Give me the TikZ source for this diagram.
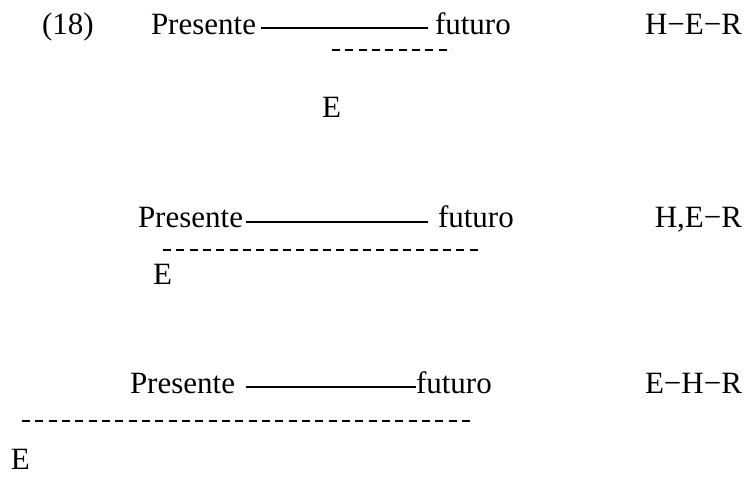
\documentclass[tikz,border=0pt]{standalone}
\usepackage{fontspec}
\setmainfont{Liberation Serif}
\usetikzlibrary{calc}
\begin{document}
\begin{tikzpicture}[x=0.75pt,y=-0.75pt,
  lbl/.style={inner sep=0pt,outer sep=0pt,font=\fontsize{23.25}{28}\selectfont},
  solidrule/.style={line width=1.5pt},
  dashrule/.style={line width=1.1pt,dash pattern=on 6pt off 4pt}]
\useasboundingbox (0,0) rectangle (751,477);

% first line: (18)
\node[lbl,anchor=base west] (n18) at (42,35) {(18)};
\node[lbl,anchor=base west] (p1) at (151,35) {Presente};
\node[lbl,anchor=base west] (f1) at (435,35) {futuro};
\node[lbl,anchor=base east] (r1) at (742,35) {H−E−R};
\draw[solidrule] ($(p1.base east)+(5,-7)$) -- ($(f1.base west)+(-7,-7)$);
\coordinate (d1a) at (332,50);
\coordinate (d1b) at (452,50);
\draw[dashrule] (d1a) -- (d1b);
\node[lbl,anchor=base west] (e1) at (322,118) {E};

% second line
\node[lbl,anchor=base west] (p2) at (138,228) {Presente};
\node[lbl,anchor=base west] (f2) at (438,228) {futuro};
\node[lbl,anchor=base east] (r2) at (742,228) {H,E−R};
\draw[solidrule] ($(p2.base east)+(3,-6)$) -- ($(f2.base west)+(-10,-6)$);
\coordinate (d2a) at (163,250);
\coordinate (d2b) at (478,250);
\draw[dashrule] (d2a) -- (d2b);
\node[lbl,anchor=base west] (e2) at (153,285) {E};

% third line
\node[lbl,anchor=base west] (p3) at (130,394) {Presente};
\node[lbl,anchor=base west] (f3) at (416,394) {futuro};
\node[lbl,anchor=base east] (r3) at (742,394) {E−H−R};
\draw[solidrule] ($(p3.base east)+(11,-7)$) -- ($(f3.base west)+(0,-7)$);
\coordinate (d3a) at (22,421);
\coordinate (d3b) at (472,421);
\draw[dashrule] (d3a) -- (d3b);
\node[lbl,anchor=base west] (e3) at (11,470) {E};
\end{tikzpicture}
\end{document}
